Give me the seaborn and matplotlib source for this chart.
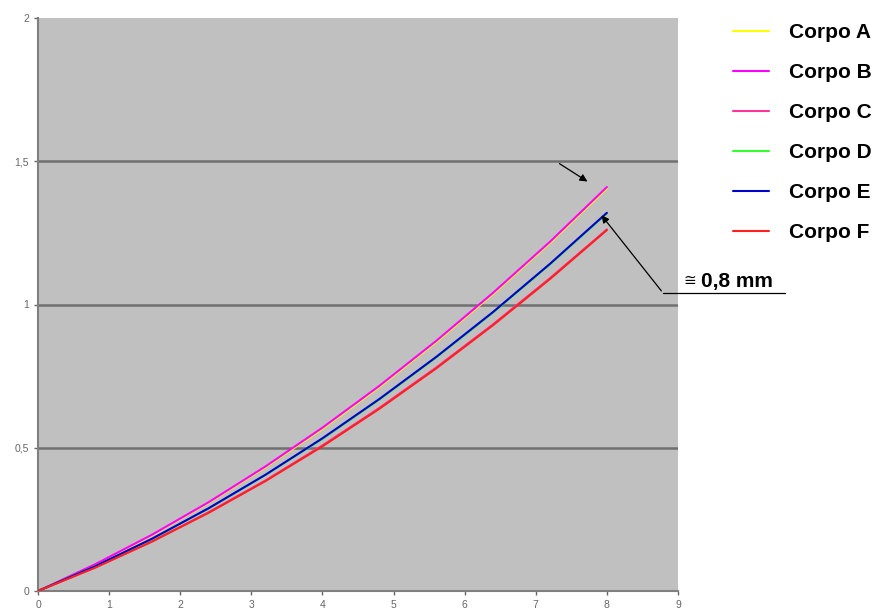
import matplotlib
matplotlib.use('Agg')
import matplotlib.pyplot as plt
import pandas as pd
import seaborn as sns

# displacement values
x_vals = [0, 0.8, 1.6, 2.4, 3.2, 4.0, 4.8, 5.6, 6.4, 7.2, 8.0]
corpo_a = [0, 0.092, 0.194, 0.308, 0.432, 0.566, 0.712, 0.869, 1.037, 1.215, 1.405]
corpo_b = [0, 0.093, 0.196, 0.310, 0.435, 0.570, 0.716, 0.873, 1.041, 1.219, 1.41]
corpo_c = [0, 0.082, 0.173, 0.275, 0.386, 0.508, 0.639, 0.780, 0.931, 1.092, 1.262]
corpo_d = [0, 0.086, 0.181, 0.288, 0.405, 0.531, 0.668, 0.815, 0.972, 1.140, 1.318]
corpo_e = [0, 0.086, 0.182, 0.289, 0.406, 0.533, 0.670, 0.817, 0.974, 1.142, 1.32]
corpo_f = [0, 0.081, 0.172, 0.273, 0.384, 0.505, 0.636, 0.777, 0.928, 1.089, 1.26]

series_names = ['Corpo A', 'Corpo B', 'Corpo C', 'Corpo D', 'Corpo E', 'Corpo F']
series_values = [corpo_a, corpo_b, corpo_c, corpo_d, corpo_e, corpo_f]
colors = ['#FFFF00', '#FF00FF', '#FF3399', '#33FF33', '#0000CC', '#FF2020']

x_ticks = [0, 1, 2, 3, 4, 5, 6, 7, 8, 9]
y_ticks = [0, 0.5, 1, 1.5, 2]
y_tick_labels = ['0', '0,5', '1', '1,5', '2']

rows = []
for name, vals in zip(series_names, series_values):
    for x, y in zip(x_vals, vals):
        rows.append({'x': x, 'y': y, 'corpo': name})
df = pd.DataFrame(rows)

sns.set_style('white')
plt.rcParams['font.family'] = ['Liberation Sans', 'DejaVu Sans']
plt.rcParams['text.color'] = 'black'

fig = plt.figure(figsize=(8.79, 6.15), dpi=100)
ax = fig.add_axes([38 / 879, 1 - 591 / 615, 640 / 879, 573 / 615])
ax.set_facecolor('#C0C0C0')

for yv in [0.5, 1, 1.5]:
    ax.axhline(yv, color='#707070', lw=1.8, zorder=1)

sns.lineplot(data=df, x='x', y='y', hue='corpo',
             palette=dict(zip(series_names, colors)), lw=1.5,
             ax=ax, zorder=3)

ax.set_xlim(0, 9)
ax.set_ylim(0, 2)
ax.set_xticks(x_ticks)
ax.set_yticks(y_ticks)
ax.set_yticklabels(y_tick_labels)
ax.set_xlabel('')
ax.set_ylabel('')
ax.tick_params(axis='both', labelsize=7.5, labelcolor='#666666',
               colors='#666666', length=3, width=1, direction='out',
               bottom=True, left=True)
for side in ['top', 'right']:
    ax.spines[side].set_visible(False)
for side in ['left', 'bottom']:
    ax.spines[side].set_color('#808080')
    ax.spines[side].set_linewidth(1.5)

handles, labels = ax.get_legend_handles_labels()
leg = ax.legend(handles, labels, loc='upper left',
                bbox_to_anchor=(733 / 879, 1 - 23 / 615),
                bbox_transform=fig.transFigure, frameon=False,
                prop={'weight': 'bold', 'size': 15},
                handlelength=1.75, handletextpad=0.92, labelspacing=1.01,
                borderpad=0, borderaxespad=0)
for t in leg.get_texts():
    t.set_color('black')

# arrows marking the gap
ax.annotate('', xy=(7.76, 1.424), xytext=(7.30, 1.497),
            arrowprops=dict(arrowstyle='-|>', color='black', lw=0.9,
                            mutation_scale=11), zorder=5)
ax.annotate('', xy=(7.90, 1.319), xytext=(8.79, 1.04),
            arrowprops=dict(arrowstyle='-|>', color='black', lw=0.9,
                            mutation_scale=11), annotation_clip=False, zorder=5)
ax.plot([8.79, 10.5], [1.04, 1.04], color='black', lw=0.9, clip_on=False)
ax.text(9.07, 1.058, '\u2245', fontsize=11, ha='left', va='bottom',
        color='black', family=['DejaVu Sans'])
ax.text(9.32, 1.046, '0,8 mm', fontsize=15, fontweight='bold',
        ha='left', va='bottom', color='black')

fig.savefig('out.png', dpi=100)
